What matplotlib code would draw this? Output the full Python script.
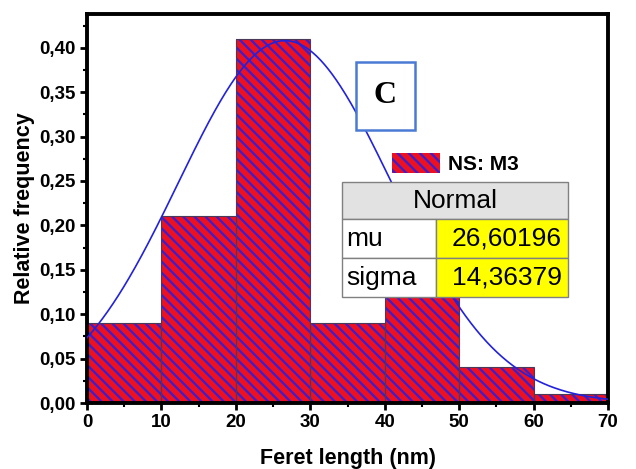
import numpy as np
import matplotlib
matplotlib.use('Agg')
import matplotlib.pyplot as plt
from matplotlib.patches import Rectangle
from matplotlib.ticker import FuncFormatter, MultipleLocator

# histogram data
bin_edges = [0, 10, 20, 30, 40, 50, 60, 70]
rel_freq = [0.09, 0.21, 0.41, 0.09, 0.12, 0.04, 0.01]

# normal fit shown in the table
fit_mu = 26.60196
fit_sigma = 14.36379
fit_peak = 0.408
table_rows = [('mu', '26,60196'), ('sigma', '14,36379')]

plt.rcParams['font.family'] = ['Liberation Sans', 'DejaVu Sans']
plt.rcParams['hatch.linewidth'] = 1.6
plt.rcParams['hatch.color'] = '#3a1fd0'

fig = plt.figure(figsize=(6.36, 4.69), dpi=100)
ax = fig.add_axes([87 / 636, 1 - 403 / 469, 521 / 636, 389 / 469])

lefts = np.array(bin_edges[:-1])
widths = np.diff(bin_edges)
ax.bar(lefts, rel_freq, width=widths, align='edge', color='#ec1020',
       edgecolor='#3a1fd0', linewidth=0, hatch='\\\\\\', label='NS: M3', zorder=1)
ax.bar(lefts, rel_freq, width=widths, align='edge', fill=False,
       edgecolor='#4a3a5a', linewidth=0.8, zorder=2)

xs = np.linspace(0, 70, 400)
ys = fit_peak * np.exp(-0.5 * ((xs - fit_mu) / fit_sigma) ** 2)
ax.plot(xs, ys, color='#2222dd', linewidth=1.2, zorder=3)

ax.set_xlim(0, 70)
ax.set_ylim(0, 0.438)
ax.xaxis.set_major_locator(MultipleLocator(10))
ax.xaxis.set_minor_locator(MultipleLocator(5))
ax.yaxis.set_major_locator(MultipleLocator(0.05))
ax.yaxis.set_minor_locator(MultipleLocator(0.025))
ax.yaxis.set_major_formatter(FuncFormatter(lambda v, p: ('%.2f' % v).replace('.', ',')))
for s in ax.spines.values():
    s.set_linewidth(2.8)
ax.tick_params(which='major', length=5, width=2, labelsize=13.5, pad=3)
ax.tick_params(which='minor', length=3, width=1.5)
for lab in ax.get_xticklabels() + ax.get_yticklabels():
    lab.set_fontweight('bold')

ax.set_xlabel('Feret length (nm)', fontsize=15.5, fontweight='bold', labelpad=12)
ax.set_ylabel('Relative frequency', fontsize=15.5, fontweight='bold', labelpad=3)

# "C" panel label
ax.add_patch(Rectangle((0.516, 0.702), 0.113, 0.175, transform=ax.transAxes,
                       facecolor='white', edgecolor='#4a7bd4', linewidth=1.8, zorder=5))
ax.text(0.516 + 0.113 / 2, 0.702 + 0.175 / 2, 'C', transform=ax.transAxes,
        ha='center', va='center', fontsize=23, fontweight='bold',
        family='Liberation Serif', zorder=6)

# legend
ax.legend(loc='upper left', bbox_to_anchor=(0.55, 0.69), frameon=False,
          handlelength=2.3, handleheight=1.1, handletextpad=0.35,
          prop={'weight': 'bold', 'size': 15})

# fit table
tl, tr = (342 - 87) / 521, (568 - 87) / 521
tsplit = (436 - 87) / 521
row_y = [(403 - y) / 389 for y in (182, 219, 258, 297)]
edge = '#808080'
ax.add_patch(Rectangle((tl, row_y[1]), tr - tl, row_y[0] - row_y[1], transform=ax.transAxes,
                       facecolor='#e2e2e2', edgecolor=edge, linewidth=1, zorder=5))
ax.text((tl + tr) / 2, (row_y[0] + row_y[1]) / 2, 'Normal', transform=ax.transAxes,
        ha='center', va='center', fontsize=19, zorder=6)
for i, (name, val) in enumerate(table_rows):
    top, bot = row_y[i + 1], row_y[i + 2]
    ax.add_patch(Rectangle((tl, bot), tsplit - tl, top - bot, transform=ax.transAxes,
                           facecolor='white', edgecolor=edge, linewidth=1, zorder=5))
    ax.add_patch(Rectangle((tsplit, bot), tr - tsplit, top - bot, transform=ax.transAxes,
                           facecolor='#ffff00', edgecolor=edge, linewidth=1, zorder=5))
    ax.text(tl + 0.008, (top + bot) / 2, name, transform=ax.transAxes,
            ha='left', va='center', fontsize=19, zorder=6)
    ax.text(tr - 0.012, (top + bot) / 2, val, transform=ax.transAxes,
            ha='right', va='center', fontsize=19, zorder=6)

fig.savefig('out.png', dpi=100)
